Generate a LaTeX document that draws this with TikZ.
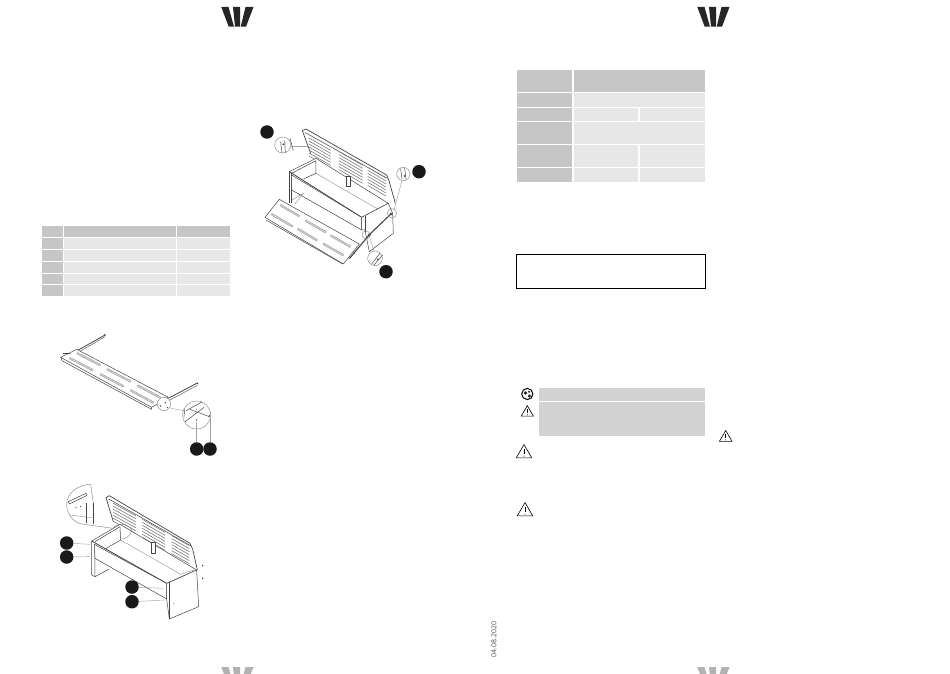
\documentclass[tikz,border=0pt]{standalone}
\usepackage{fontspec}
\setmainfont{Open Sans}
\definecolor{hd}{HTML}{C6C6C6}
\definecolor{cell}{HTML}{E7E7E7}
\definecolor{band}{HTML}{D2D2D2}
\definecolor{ink}{HTML}{444444}
\tikzset{
  part/.style={draw=ink,line width=0.5pt,line join=round},
  thin part/.style={draw=ink!70,line width=0.3pt},
  lens/.style={draw=ink!70,line width=0.4pt},
  leader/.style={draw=ink!50,line width=0.45pt},
  dot/.style={circle,fill=black!90,draw=none,minimum size=13.5pt,inner sep=0pt},
  warn/.style={draw=black,line width=0.6pt,line join=miter},
}
% W logo
\newcommand{\wlogo}[3]{%
  \fill[#3] (#1+221.3,#2+7) -- (#1+228.5,#2+7) -- (#1+234,#2+26.7) -- (#1+228.7,#2+26.7) -- cycle;
  \fill[#3] (#1+233,#2+7) -- (#1+240,#2+7) -- (#1+240,#2+26.7) -- (#1+235,#2+26.7) -- cycle;
  \fill[#3] (#1+245.5,#2+7) -- (#1+253.5,#2+7) -- (#1+246,#2+26.7) -- (#1+240.7,#2+26.7) -- cycle;
}
\newcommand{\warntri}[3]{%
  \draw[warn] (#1,#2-#3) -- (#1+#3*1.05,#2+#3*0.8) -- (#1-#3*1.05,#2+#3*0.8) -- cycle;
  \draw[warn,line width=0.9pt] (#1,#2-#3*0.4) -- (#1,#2+#3*0.3);
  \fill (#1,#2+#3*0.56) circle (0.5pt);
}
% slot of a ramp
\newcommand{\slot}[4]{%
  \draw[draw=ink!60,line width=0.3pt,fill=ink!25,rounded corners=0.5pt] (#1,#2) -- (#3,#4) -- (#3-2,#4+5) -- (#1-2,#2+5) -- cycle;
}
\begin{document}
\begin{tikzpicture}[x=1pt,y=-1pt]
\useasboundingbox (0,0) rectangle (950,674);
\fill[white] (0,0) rectangle (950,674);

% logos
\wlogo{0}{0}{black!85}
\wlogo{476}{0}{black!85}
\begin{scope}
  \clip (200,667) rectangle (760,674);
  \wlogo{0}{660}{black!30}
  \wlogo{476}{660}{black!30}
\end{scope}

% parts table
\foreach \ya/\yb [count=\r] in {226/236.7,238/248.7,250/260.7,262/272.7,274/283.5,285/296}{
  \fill[hd] (42,\ya) rectangle (62.8,\yb);
  \ifnum\r=1
    \fill[hd] (64,\ya) rectangle (176,\yb);
    \fill[hd] (177.4,\ya) rectangle (230,\yb);
  \else
    \fill[cell] (64,\ya) rectangle (176,\yb);
    \fill[cell] (177.4,\ya) rectangle (230,\yb);
  \fi
}

% spec table
\fill[hd] (517,70) rectangle (572.4,92);
\fill[hd] (573.8,70) rectangle (705,92);
\foreach \ya/\yb in {93/106.7,108/120.7,122/143.7,145/166.7,168/181.7}
  \fill[hd] (517,\ya) rectangle (572.4,\yb);
\fill[cell] (573.8,93) rectangle (705,106.7);
\fill[cell] (573.8,108) rectangle (638.4,120.7);
\fill[cell] (639.8,108) rectangle (705,120.7);
\fill[cell] (573.8,122) rectangle (705,143.7);
\fill[cell] (573.8,145) rectangle (638.4,166.7);
\fill[cell] (639.8,145) rectangle (705,166.7);
\fill[cell] (573.8,168) rectangle (638.4,181.7);
\fill[cell] (639.8,168) rectangle (705,181.7);

% note frame
\draw[black,line width=0.7pt] (516.5,254) rectangle (705.5,288);

% warning band
\fill[band] (539,388) rectangle (705,401);
\fill[band] (539,402) rectangle (705,435.7);
\draw[black,line width=1pt] (527.3,394) circle (5.6);
\fill[black!85] (525.5,393) circle (1.9) (529.3,396) circle (1.7) (529,391.8) circle (1.1);
\warntri{527.3}{411.5}{5.8}
\warntri{524}{452}{7.4}
\warntri{525}{510}{7.4}
\warntri{725.7}{436.5}{6}

% date
\node[rotate=90,text=black!70,font=\fontsize{6.9}{8}\selectfont,inner sep=0pt] (date) at (494,639.5) {04.08.2020};

%% ---- top right drawing
\begin{scope}[shift={(240,110)},x=0.3333pt,y=-0.3333pt]
  % lid
  \draw[part,line width=0.7pt] (212,130) -- (187,62) -- (198,57) -- (440,195) -- (447,212) -- (466,280);
  \draw[part] (196,68) -- (442,205);
  \foreach \k in {0,...,6}{
    \draw[thin part,line width=0.6pt] (207,{84+\k*9}) -- (272,{121+\k*9});
    \draw[thin part,line width=0.6pt] (297,{125+\k*9}) -- (368,{166+\k*9});
    \draw[thin part,line width=0.6pt] (383,{172+\k*9}) -- (438,{204+\k*9});
  }
  % box
  \filldraw[part,fill=white] (148,185) -- (228,145) -- (445,280) -- (365,322) -- cycle;
  \draw[part] (155,190) -- (228,152) -- (228,190) -- (190,207);
  \draw[thin part] (228,190) -- (418,300) -- (440,282);
  \draw[part,fill=white] (318,198) rectangle (331,228);
  \draw[part] (148,185) -- (148,280) (155,190) -- (155,280);
  \filldraw[part,fill=white] (155,195) -- (365,322) -- (365,360) -- (155,240) -- cycle;
  \draw[part] (148,185) -- (365,322);
  \filldraw[part,fill=white] (365,322) -- (445,280) -- (458,310) -- (460,370) -- (388,425) -- (375,360) -- (365,360) -- cycle;
  \draw[part] (375,318) -- (375,365);
  \draw[thin part] (155,270) -- (190,250) -- (165,282);
  % ramp
  \filldraw[part,fill=white] (75,322) -- (118,268) -- (358,402) -- (310,462) -- cycle;
  \draw[part] (78,330) -- (308,462);
  \slot{122}{283}{179}{316}
  \slot{96}{310}{159}{347}
  \slot{197}{329}{258}{364}
  \slot{174}{354}{233}{389}
  \slot{273}{374}{333}{408}
  \slot{251}{399}{311}{433}
  % arms
  \draw[part,line width=1.1pt] (328,446) -- (390,372);
  \draw[part,line width=1.1pt] (390,372) -- (455,310);
  \fill[ink] (388,375) circle (5) (453,312) circle (4) (343,428) circle (2.5);
  % lenses
  \draw[lens,fill=white] (128,105) circle (24);
  \draw[part] (122,95) -- (126,130) (134,92) -- (136,128) (150,85) -- (160,122);
  \fill[ink] (130,103) circle (3);
  \draw[leader] (152,108) -- (205,108);
  \draw[lens,fill=white] (490,192) circle (20);
  \draw[part] (482,176) -- (486,208) (494,174) -- (498,208);
  \fill[ink] (494,198) circle (3);
  \draw[leader] (486,212) -- (462,300);
  \draw[lens,fill=white] (405,445) circle (22);
  \draw[part] (395,462) -- (420,430) (402,465) -- (428,435);
  \fill[ink] (414,448) circle (3);
  \draw[leader] (390,385) -- (402,423);
  \draw[lens] (378,375) circle (12) (456,310) circle (14);
\end{scope}
\node[dot] (a1) at (267,132) {};
\node[dot] (a2) at (419,171.7) {};
\node[dot] (a3) at (386,271.7) {};

%% ---- middle-left drawing
\begin{scope}[shift={(40,320)},x=0.3333pt,y=-0.3333pt]
  \draw[part,line width=0.8pt] (115,90) -- (195,45);
  \draw[part,line width=0.4pt] (118,95) -- (195,50);
  \draw[part,line width=0.8pt] (385,235) -- (470,190);
  \draw[part,line width=0.4pt] (390,240) -- (472,196);
  \filldraw[part,fill=white] (62,112) -- (110,88) -- (385,232) -- (335,262) -- cycle;
  \draw[part] (66,122) -- (335,268) -- (335,262);
  \draw[part] (62,112) -- (66,122);
  \draw[part] (68,100) -- (90,100);
  \slot{112}{97}{182}{133}
  \slot{90}{112}{160}{148}
  \slot{202}{145}{273}{182}
  \slot{182}{160}{252}{197}
  \slot{293}{194}{362}{230}
  \slot{272}{208}{342}{246}
  \fill[ink] (195,45) circle (3) (472,190) circle (3);
  \draw[lens,fill=white] (372,252) circle (20);
  \fill[ink] (362,258) circle (2.5) (376,248) circle (2.5) (382,262) circle (2);
  \draw[leader] (393,265) -- (430,272);
  \draw[lens,fill=white] (470,285) circle (42);
  \draw[part] (436,305) -- (492,262) (438,272) -- (486,246) (450,268) -- (508,290) (432,290) -- (434,268);
  \fill[ink] (470,300) circle (2.5) (508,288) circle (2.5) (470,268) circle (1.5);
  \coordinate (b1) at (470,305);
  \coordinate (b2) at (510,290);
\end{scope}
\node[dot] (d1) at (196.7,449) {};
\node[dot] (d2) at (210,449) {};
\draw[leader] (d1) -- (d1 |- b1);
\draw[leader] (d2) -- (d2 |- b2);

%% ---- bottom-left drawing
\begin{scope}[shift={(50,475)},x=0.3333pt,y=-0.3333pt]
  % lid
  \draw[part,line width=0.7pt] (190,140) -- (168,68) -- (178,62) -- (420,205) -- (428,222) -- (442,285);
  \draw[part] (176,72) -- (422,212);
  \foreach \k in {0,...,6}{
    \draw[thin part,line width=0.6pt] (190,{85+\k*9}) -- (257,{122+\k*9});
    \draw[thin part,line width=0.6pt] (277,{133+\k*9}) -- (345,{172+\k*9});
    \draw[thin part,line width=0.6pt] (365,{182+\k*9}) -- (418,{212+\k*9});
  }
  % box
  \filldraw[part,fill=white] (125,198) -- (210,148) -- (440,285) -- (350,325) -- cycle;
  \draw[part] (135,200) -- (210,155) -- (212,195) -- (165,222);
  \draw[thin part] (212,195) -- (392,298) -- (432,285);
  \draw[part,fill=white] (304,203) rectangle (317,235);
  \draw[part] (125,198) -- (125,300) (135,208) -- (135,305) (125,300) -- (135,305) -- (178,282);
  \filldraw[part,fill=white] (133,208) -- (350,325) -- (350,372) -- (135,250) -- cycle;
  \draw[part] (125,198) -- (350,325);
  \filldraw[part,fill=white] (350,325) -- (358,322) -- (440,285) -- (446,395) -- (358,432) -- (350,372) -- cycle;
  \draw[part] (358,322) -- (358,432);
  \fill[ink] (372,386) circle (1.5);
  \fill[ink] (458,272) circle (2.5) (458,310) circle (2.5);
  % lens
  \draw[lens] (122,28) .. controls (85,28) and (48,55) .. (50,92) .. controls (52,120) and (70,142) .. (95,147);
  \draw[lens] (122,28) -- (130,85);
  \draw[part] (55,80) -- (108,55) -- (110,62) -- (58,87) -- cycle;
  \fill[ink] (78,98) circle (2) (92,95) circle (2) (130,88) circle (2) (130,122) circle (2);
  \draw[part] (108,85) -- (108,145) (130,85) -- (130,148);
  \draw[thin part] (60,120) -- (125,128);
  \draw[lens] (95,147) -- (190,160);
  \draw[lens] (190,158) .. controls (205,140) and (240,150) .. (245,165) .. controls (245,180) and (225,195) .. (212,192);
  \coordinate (c1) at (120,208);
  \coordinate (c2) at (120,245);
  \coordinate (c3) at (340,340);
  \coordinate (c4) at (345,375);
\end{scope}
\node[dot] (e1) at (66.7,543) {};
\node[dot] (e2) at (66.7,557) {};
\node[dot] (e3) at (132,587) {};
\node[dot] (e4) at (132,601.7) {};
\draw[leader] (e1) -- (c1);
\draw[leader] (e2) -- (c2);
\draw[leader] (e3) -- (c3);
\draw[leader] (e4) -- (c4);
\end{tikzpicture}
\end{document}
